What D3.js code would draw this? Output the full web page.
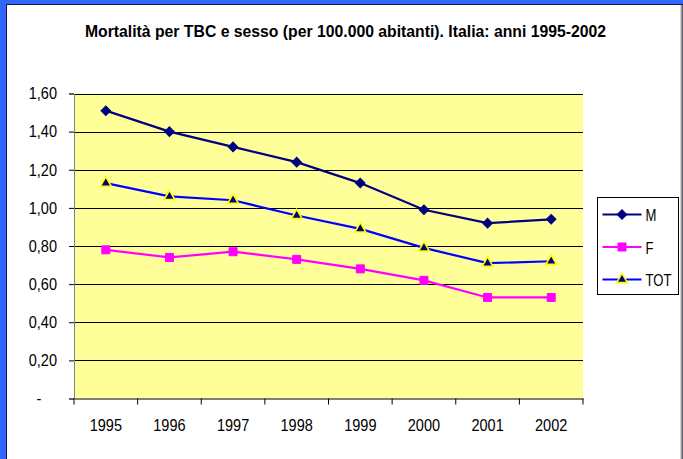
<!DOCTYPE html>
<html>
<head>
<meta charset="utf-8">
<script src="https://cdn.jsdelivr.net/npm/d3@7"></script>
<style>
  html, body { margin: 0; padding: 0; background: #fff; }
  svg { display: block; font-family: "Liberation Sans", Arial, sans-serif; }
</style>
</head>
<body>
<div id="chart"></div>
<script>
// dati
const years = ['1995', '1996', '1997', '1998', '1999', '2000', '2001', '2002'];
const valuesM = [1.51, 1.40, 1.32, 1.24, 1.13, 0.99, 0.92, 0.94];
const valuesF = [0.78, 0.74, 0.77, 0.73, 0.68, 0.62, 0.53, 0.53];
const valuesTOT = [1.13, 1.06, 1.04, 0.96, 0.89, 0.79, 0.71, 0.72];
const yTicks = [0, 0.2, 0.4, 0.6, 0.8, 1.0, 1.2, 1.4, 1.6];
const seriesNames = ['M', 'F', 'TOT'];

(function() {
    const W = 683, H = 459;
    const plot = { left: 74, right: 583, top: 93.5, bottom: 398.5 };

    const series = [
        { name: seriesNames[0], values: valuesM, line: '#000080', fill: '#000080', stroke: '#000080', symbol: d3.symbolSquare, size: 46, rotate: 45 },
        { name: seriesNames[1], values: valuesF, line: '#FF00FF', fill: '#FF00FF', stroke: '#FF00FF', symbol: d3.symbolSquare, size: 64, rotate: 0 },
        { name: seriesNames[2], values: valuesTOT, line: '#0000FF', fill: '#000080', stroke: '#FFFF00', symbol: d3.symbolTriangle, size: 50, rotate: 0 }
    ];

    const svg = d3.select('#chart').append('svg')
        .attr('width', W)
        .attr('height', H);

    // cornice
    svg.append('rect').attr('width', W).attr('height', H).attr('fill', '#3366FF');
    svg.append('rect').attr('x', 6).attr('y', 4).attr('width', W - 6).attr('height', H - 4).attr('fill', '#1a1a40');
    svg.append('rect').attr('x', 7).attr('y', 5).attr('width', W - 9).attr('height', H - 5).attr('fill', '#fff');
    svg.append('line').attr('x1', W - 1.5).attr('x2', W - 1.5).attr('y1', 5).attr('y2', H)
        .attr('stroke', '#a0a0a0').attr('stroke-width', 2);

    // testo un po' stretto come nell'originale
    function condense(sel, k) {
        sel.each(function() {
            const w = this.getComputedTextLength();
            d3.select(this).attr('textLength', w * k).attr('lengthAdjust', 'spacingAndGlyphs');
        });
    }

    svg.append('text')
        .attr('x', 345.5)
        .attr('y', 37)
        .attr('text-anchor', 'middle')
        .attr('font-size', 17)
        .attr('font-weight', 'bold')
        .attr('fill', '#000')
        .text('Mortalità per TBC e sesso (per 100.000 abitanti). Italia: anni 1995-2002')
        .call(condense, 0.927);

    const x = d3.scaleBand().domain(years).range([plot.left, plot.right]);
    const y = d3.scaleLinear().domain([0, 1.6]).range([plot.bottom, plot.top]);

    // area del grafico
    svg.append('rect')
        .attr('x', plot.left)
        .attr('y', plot.top)
        .attr('width', plot.right - plot.left)
        .attr('height', plot.bottom - plot.top)
        .attr('fill', '#FFFF99');

    // griglia
    svg.append('g')
        .selectAll('line')
        .data(yTicks.filter(d => d > 0))
        .enter().append('line')
        .attr('x1', plot.left)
        .attr('x2', plot.right)
        .attr('y1', d => Math.round(y(d)) + 0.5)
        .attr('y2', d => Math.round(y(d)) + 0.5)
        .attr('stroke', '#000')
        .attr('stroke-width', 1);

    // asse y
    const yAxis = svg.append('g')
        .attr('transform', `translate(${plot.left},0)`)
        .call(d3.axisLeft(y)
            .tickValues(yTicks)
            .tickSize(5)
            .tickPadding(12)
            .tickFormat(d => d === 0 ? '-' : d3.format('.2f')(d).replace('.', ',')));
    yAxis.select('.domain').attr('stroke', '#808080');
    yAxis.selectAll('.tick line').attr('stroke', '#000');
    yAxis.selectAll('text')
        .attr('font-size', 16.5)
        .attr('font-family', '"Liberation Sans", Arial, sans-serif')
        .attr('fill', '#000')
        .call(condense, 0.88);
    yAxis.selectAll('.tick').filter(d => d === 0).select('text')
        .attr('text-anchor', 'middle')
        .attr('x', 39 - plot.left);

    // asse x, tacche ai bordi delle categorie
    const xAxis = svg.append('g')
        .attr('transform', `translate(0,${plot.bottom})`)
        .call(d3.axisBottom(x).tickSize(0).tickPadding(21));
    xAxis.select('.domain').attr('stroke', '#000');
    xAxis.selectAll('text')
        .attr('font-size', 16.5)
        .attr('font-family', '"Liberation Sans", Arial, sans-serif')
        .attr('fill', '#000')
        .call(condense, 0.88);
    xAxis.append('g')
        .selectAll('line')
        .data(years.concat(['end']))
        .enter().append('line')
        .attr('x1', (d, i) => plot.left + i * x.step())
        .attr('x2', (d, i) => plot.left + i * x.step())
        .attr('y1', 0)
        .attr('y2', 6)
        .attr('stroke', '#000');

    // linee e marcatori
    const line = d3.line()
        .x((d, i) => x(years[i]) + x.bandwidth() / 2)
        .y(d => y(d));

    series.forEach(s => {
        svg.append('path')
            .datum(s.values)
            .attr('d', line)
            .attr('fill', 'none')
            .attr('stroke', s.line)
            .attr('stroke-width', 2.2);
    });

    series.forEach(s => {
        svg.append('g')
            .selectAll('path')
            .data(s.values)
            .enter().append('path')
            .attr('transform', (d, i) => `translate(${x(years[i]) + x.bandwidth() / 2},${y(d)}) rotate(${s.rotate})`)
            .attr('d', d3.symbol().type(s.symbol).size(s.size))
            .attr('fill', s.fill)
            .attr('stroke', s.stroke)
            .attr('stroke-width', s.stroke === s.fill ? 1 : 1.6);
    });

    // legenda
    const legend = svg.append('g').attr('transform', 'translate(597.5,197.5)');
    legend.append('rect')
        .attr('width', 81)
        .attr('height', 97)
        .attr('fill', '#fff')
        .attr('stroke', '#000');

    const item = legend.selectAll('.item')
        .data(series)
        .enter().append('g')
        .attr('class', 'item')
        .attr('transform', (d, i) => `translate(0,${17 + i * 32.5})`);
    item.append('line')
        .attr('x1', 5).attr('x2', 44)
        .attr('stroke', d => d.line)
        .attr('stroke-width', 2);
    item.append('path')
        .attr('transform', d => `translate(24.5,0) rotate(${d.rotate})`)
        .attr('d', d => d3.symbol().type(d.symbol).size(d.size)())
        .attr('fill', d => d.fill)
        .attr('stroke', d => d.stroke)
        .attr('stroke-width', d => d.stroke === d.fill ? 1 : 1.6);
    item.append('text')
        .attr('x', 48)
        .attr('y', 6.5)
        .attr('font-size', 17)
        .attr('fill', '#000')
        .text(d => d.name)
        .call(condense, 0.77);
})();
</script>
</body>
</html>
